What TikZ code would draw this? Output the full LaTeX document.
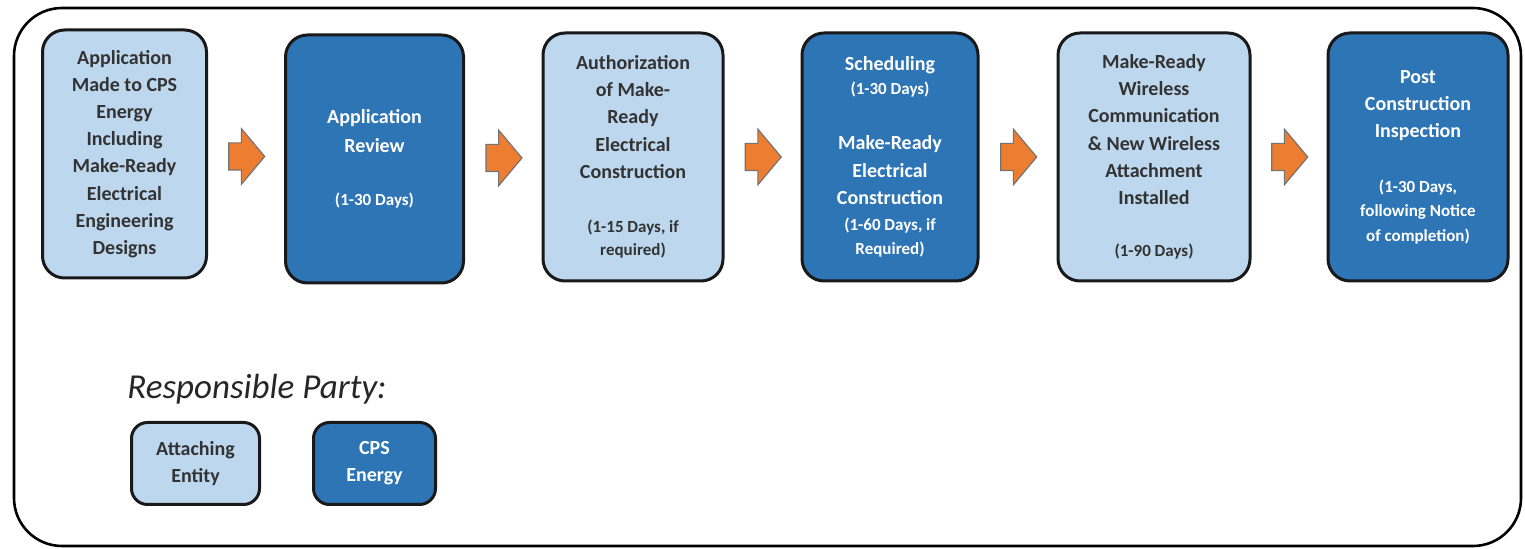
\documentclass[tikz,border=0pt]{standalone}
\usepackage{fontspec}
\setmainfont{Carlito}
\usetikzlibrary{shapes.arrows,calc}
\definecolor{attachblue}{HTML}{BDD7EE}
\definecolor{cpsblue}{HTML}{2E75B6}
\definecolor{steporange}{HTML}{ED7D31}
\newcommand{\stagedays}[1]{{\fontsize{8.5}{12}\selectfont #1}}
\begin{document}
\begin{tikzpicture}[x=0.5pt,y=-0.5pt,
                stage/.style = {draw=black!90, line width=1.5pt, rounded corners=11pt,
                    align=center, inner sep=2pt, minimum height=124pt,
                    font=\bfseries\fontsize{10}{13.6}\selectfont},
                attacher/.style = {stage, fill=attachblue, text=black!80},
                utility/.style = {stage, fill=cpsblue, text=white},
                nextarrow/.style = {single arrow, draw=black!55, line width=0.6pt, fill=steporange,
                    inner xsep=0pt, inner ysep=6.5pt, minimum height=18pt, minimum width=24pt,
                    single arrow tip angle=100, xshift=-2.5pt}]
            \useasboundingbox (0,0) rectangle (1525,549);
            \draw[line width=1.3pt, rounded corners=24pt] (14,8) rectangle (1521,546);
            \node[attacher, minimum width=82pt] (s1) at (124.5,154)
                {Application\\ Made to CPS\\ Energy\\ Including\\ Make-Ready\\ Electrical\\ Engineering\\ Designs};
            \node[utility, minimum width=89pt] (s2) at (374.5,159)
                {Application\\[1pt] Review\\[13pt] \stagedays{(1-30 Days)}};
            \node[attacher, minimum width=90pt] (s3) at (633,157)
                {Authorization\\ of Make-\\ Ready\\ Electrical\\ Construction\\[13.5pt]
                 \stagedays{(1-15 Days, if}\\[-2pt] \stagedays{required)}};
            \node[utility, minimum width=88pt] (s4) at (890,157)
                {Scheduling\\[-1.5pt] \stagedays{(1-30 Days)}\\[14pt] Make-Ready\\ Electrical\\ Construction\\[-0.5pt]
                 \stagedays{(1-60 Days, if}\\[-1.5pt] \stagedays{Required)}};
            \node[attacher, minimum width=96pt] (s5) at (1154,157)
                {Make-Ready\\ Wireless\\ Communication\\ \& New Wireless\\ Attachment\\ Installed\\[12.5pt]
                 \stagedays{(1-90 Days)}};
            \node[utility, minimum width=90pt] (s6) at (1418,157)
                {Post\\ Construction\\ Inspection\\[14pt] \stagedays{(1-30 Days,}\\[-1.5pt]
                 \stagedays{following Notice}\\[-1.5pt] \stagedays{of completion)}};
            \foreach \a/\b in {s1/s2,s2/s3,s3/s4,s4/s5,s5/s6}
                \node[nextarrow] (arr-\a) at ($(\a.east)!0.5!(\b.west)$) {};
            \node[font=\itshape\fontsize{17.5}{21}\selectfont, text=black!85] (party) at (257,389) {Responsible Party:};
            \node[attacher, minimum width=64pt, minimum height=41pt, rounded corners=8pt] (key-attach) at (195.5,463.5)
                {Attaching\\ Entity};
            \node[utility, minimum width=61pt, minimum height=41pt, rounded corners=8pt] (key-cps) at (374.5,463.5)
                {CPS\\ Energy};
\end{tikzpicture}
\end{document}
